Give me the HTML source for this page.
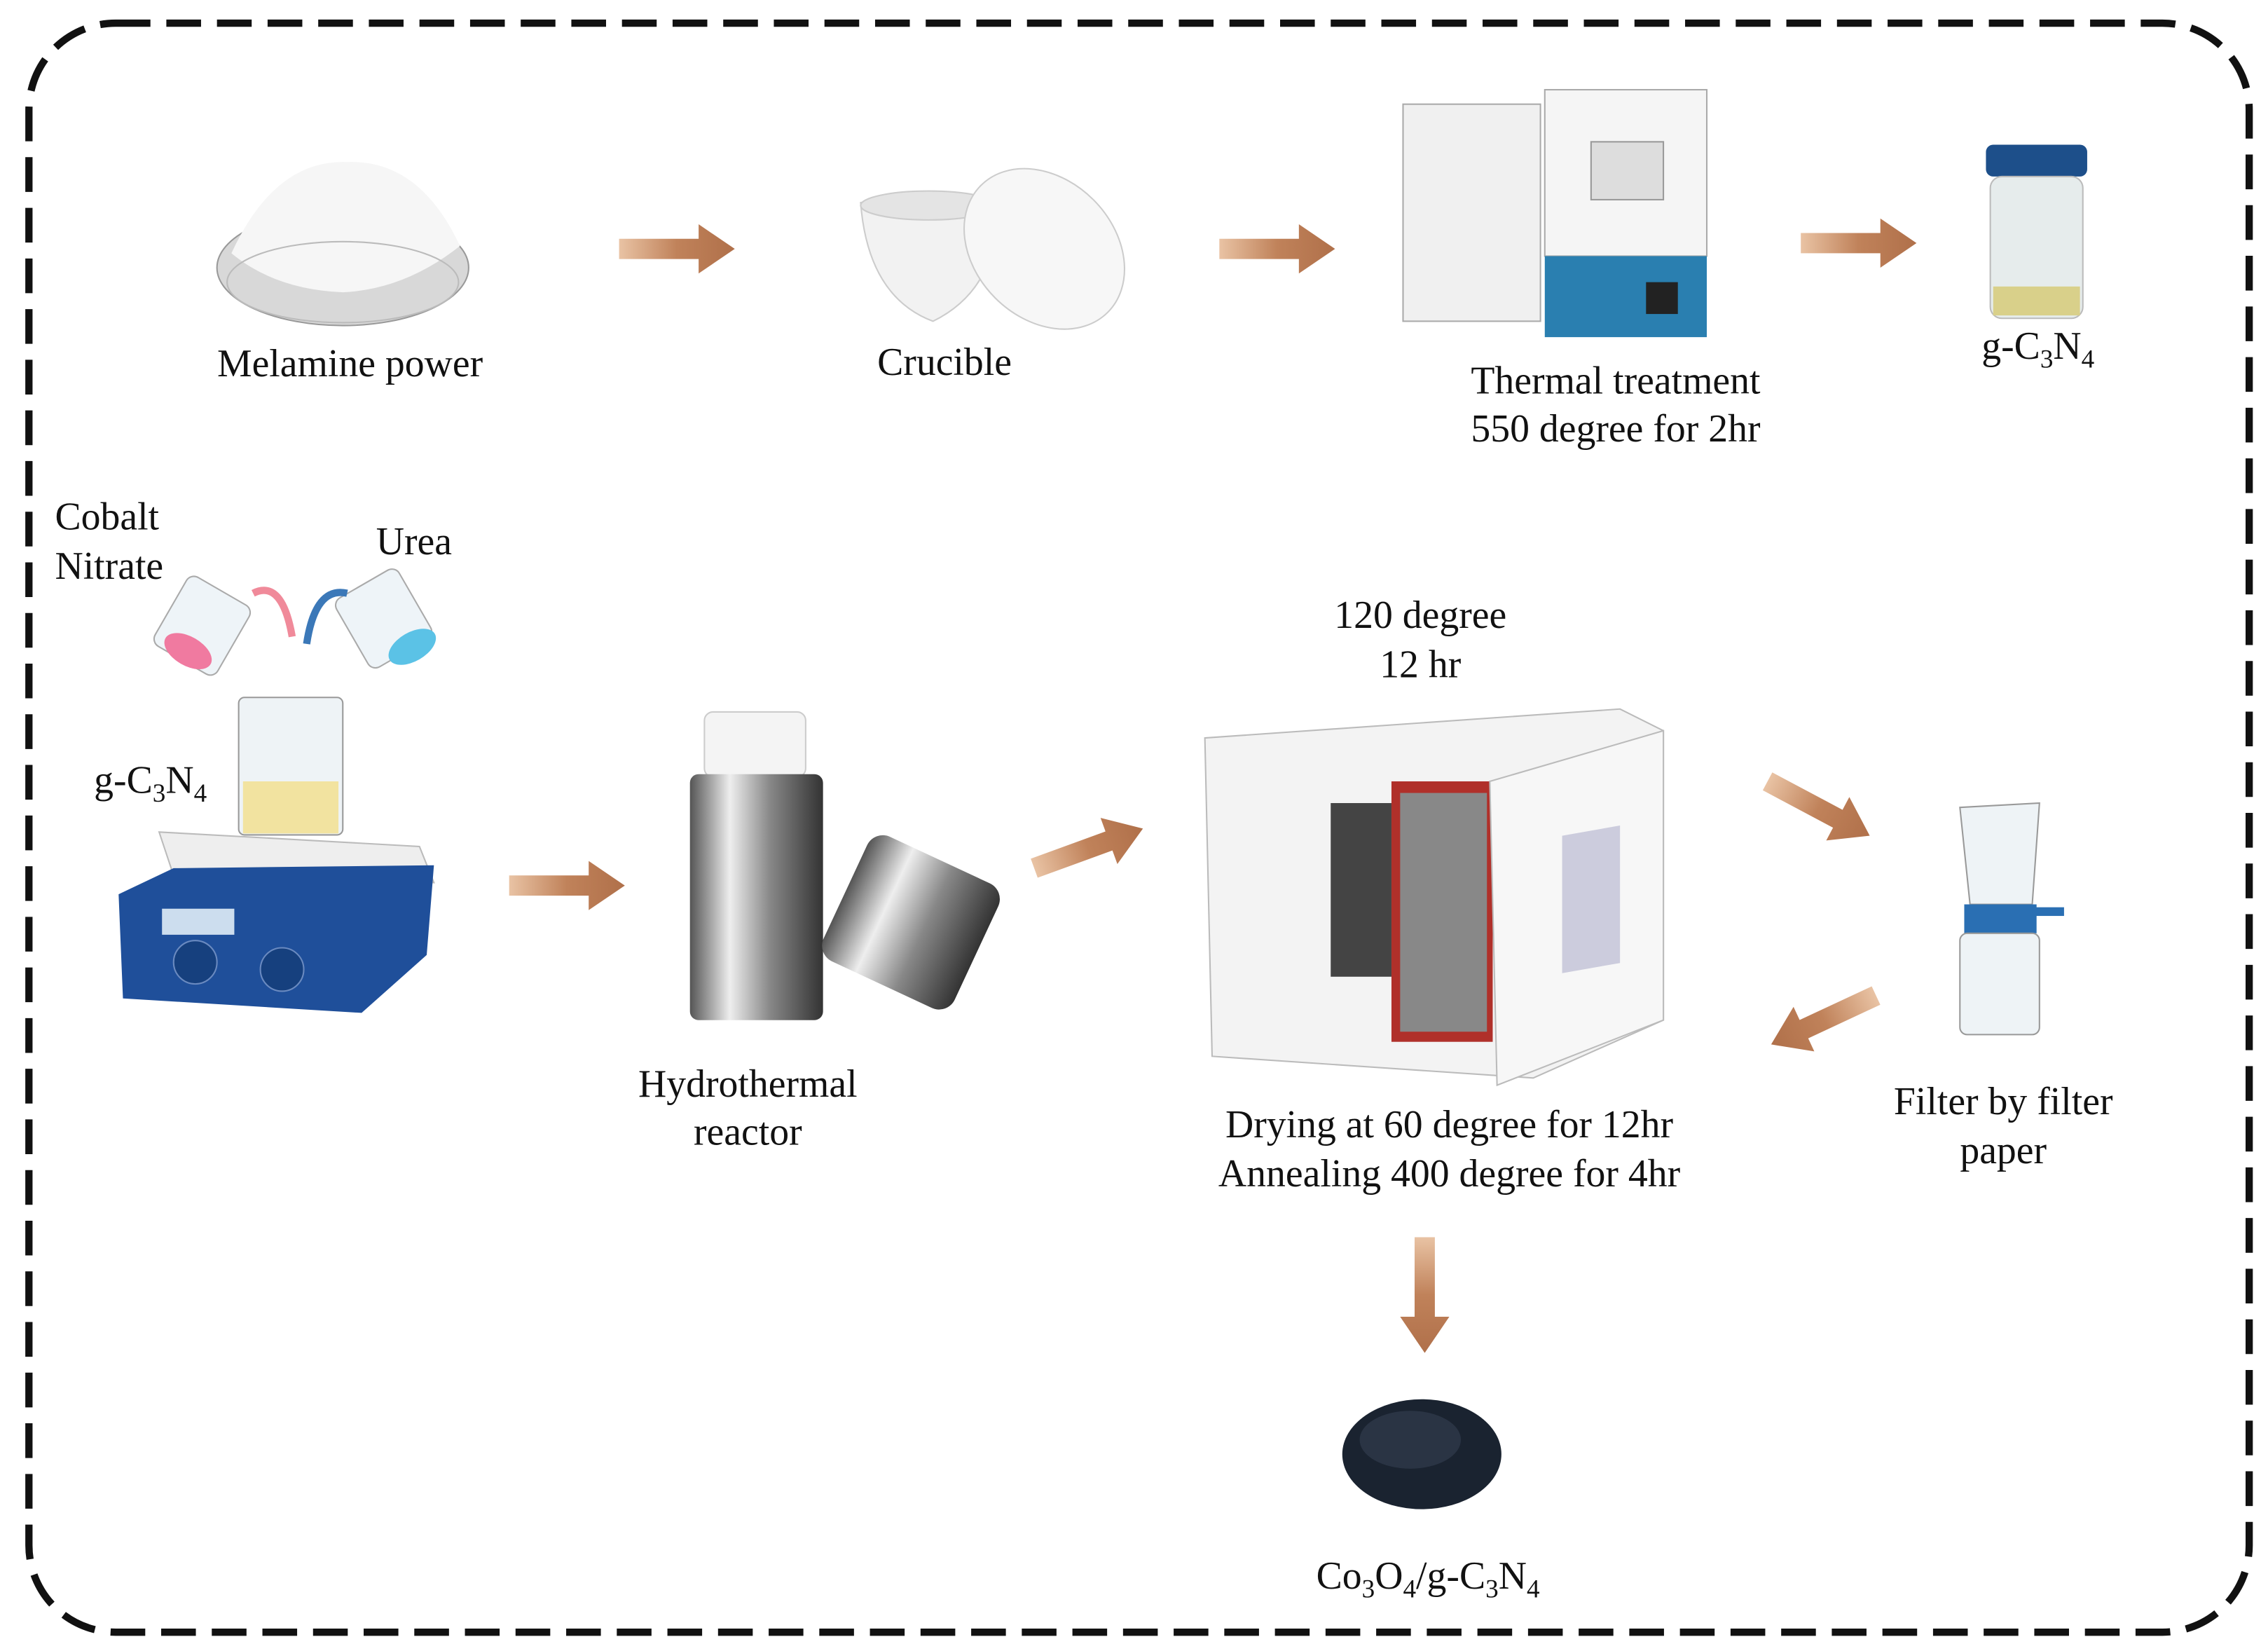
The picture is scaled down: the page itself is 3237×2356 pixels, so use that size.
<!DOCTYPE html>
<html><head><meta charset="utf-8">
<style>
html,body{margin:0;padding:0;background:#fff;}
svg{display:block;}
text{font-family:"Liberation Serif",serif;font-size:27px;fill:#111;}
</style></head>
<body>
<svg width="3237" height="2356" viewBox="0 0 1568 1141" preserveAspectRatio="none" xmlns="http://www.w3.org/2000/svg">
<defs>
<linearGradient id="ag" x1="0" x2="1" y1="0" y2="0">
<stop offset="0" stop-color="#e9c3a4"/><stop offset="0.5" stop-color="#c0825a"/><stop offset="1" stop-color="#b0704a"/>
</linearGradient>
<g id="arr"><path d="M0,-7 L55,-7 L55,-17 L80,0 L55,17 L55,7 L0,7 Z" fill="url(#ag)"/></g>
<linearGradient id="steel" x1="0" x2="1"><stop offset="0" stop-color="#555"/><stop offset="0.3" stop-color="#eee"/><stop offset="0.6" stop-color="#888"/><stop offset="1" stop-color="#333"/></linearGradient>
</defs>
<rect x="0" y="0" width="1568" height="1141" fill="#fff"/>
<rect x="20" y="16" width="1535" height="1112" rx="60" ry="60" fill="none" stroke="#111" stroke-width="5" stroke-dasharray="24 11"/>

<use href="#arr" transform="translate(428,172)"/>
<use href="#arr" transform="translate(843,172)"/>
<use href="#arr" transform="translate(1245,168)"/>
<use href="#arr" transform="translate(352,612)"/>
<use href="#arr" transform="translate(715,600) rotate(-20)"/>
<use href="#arr" transform="translate(1222,540) rotate(28)"/>
<use href="#arr" transform="translate(1297,688) rotate(155)"/>
<use href="#arr" transform="translate(985,855) rotate(90)"/>

<ellipse cx="237" cy="185" rx="87" ry="40" fill="#d8d8d8" stroke="#999"/>
<path d="M160,175 Q190,110 240,112 Q290,110 318,170 Q280,200 237,202 Q190,200 160,175Z" fill="#f6f6f6"/>
<ellipse cx="237" cy="195" rx="80" ry="28" fill="none" stroke="#bbb"/>
<text x="242" y="260" text-anchor="middle">Melamine power</text>

<path d="M595,140 Q640,130 690,142 Q690,200 645,222 Q600,205 595,140Z" fill="#f2f2f2" stroke="#ccc"/>
<ellipse cx="642" cy="142" rx="47" ry="10" fill="#e4e4e4" stroke="#ccc"/>
<ellipse cx="722" cy="172" rx="48" ry="62" transform="rotate(-45 722 172)" fill="#f7f7f7" stroke="#ccc"/>
<text x="653" y="259" text-anchor="middle">Crucible</text>

<rect x="970" y="72" width="95" height="150" fill="#f0f0f0" stroke="#aaa"/>
<rect x="1068" y="62" width="112" height="115" fill="#f5f5f5" stroke="#aaa"/>
<rect x="1100" y="98" width="50" height="40" fill="#ddd" stroke="#999"/>
<rect x="1068" y="177" width="112" height="56" fill="#2a7fb0"/>
<rect x="1138" y="195" width="22" height="22" fill="#222"/>
<text x="1117" y="272" text-anchor="middle">Thermal treatment</text>
<text x="1117" y="305" text-anchor="middle">550  degree for 2hr</text>

<rect x="1373" y="100" width="70" height="22" rx="5" fill="#1d4f8a"/>
<rect x="1376" y="122" width="64" height="98" rx="8" fill="#e6ecec" stroke="#bbb"/>
<rect x="1378" y="198" width="60" height="20" fill="#d9d08a"/>
<text x="1370" y="248">g-C<tspan font-size="18" dy="6">3</tspan><tspan dy="-6">N</tspan><tspan font-size="18" dy="6">4</tspan></text>

<text x="38" y="366">Cobalt</text>
<text x="38" y="400">Nitrate</text>
<text x="260" y="383">Urea</text>
<rect x="115" y="405" width="50" height="55" rx="6" transform="rotate(30 140 432)" fill="#eef4f8" stroke="#aaa"/>
<ellipse cx="130" cy="450" rx="18" ry="10" fill="#f07aa0" transform="rotate(30 130 450)"/>
<rect x="240" y="400" width="50" height="55" rx="6" transform="rotate(-30 265 427)" fill="#eef4f8" stroke="#aaa"/>
<ellipse cx="285" cy="447" rx="18" ry="10" fill="#5bc2e6" transform="rotate(-30 285 447)"/>
<path d="M175,410 Q195,400 202,440" fill="none" stroke="#f08a9a" stroke-width="5"/>
<path d="M240,410 Q218,405 212,445" fill="none" stroke="#3b78b8" stroke-width="5"/>

<text x="65" y="548">g-C<tspan font-size="18" dy="6">3</tspan><tspan dy="-6">N</tspan><tspan font-size="18" dy="6">4</tspan></text>
<rect x="165" y="482" width="72" height="95" rx="4" fill="#eef3f6" stroke="#999"/>
<rect x="168" y="540" width="66" height="36" fill="#f2e3a0"/>
<path d="M110,575 L290,585 L300,610 L120,605Z" fill="#eee" stroke="#bbb"/>
<path d="M82,618 L120,600 L300,598 L295,660 L250,700 L85,690Z" fill="#1f4f9a"/>
<rect x="112" y="628" width="50" height="18" fill="#cde"/>
<circle cx="135" cy="665" r="15" fill="#16407e" stroke="#6a8ac0"/>
<circle cx="195" cy="670" r="15" fill="#16407e" stroke="#6a8ac0"/>

<rect x="487" y="492" width="70" height="45" rx="6" fill="#f4f4f4" stroke="#ccc"/>
<rect x="477" y="535" width="92" height="170" rx="6" fill="url(#steel)"/>
<rect x="580" y="590" width="100" height="95" rx="12" transform="rotate(25 630 637)" fill="url(#steel)"/>
<text x="517" y="758" text-anchor="middle">Hydrothermal</text>
<text x="517" y="791" text-anchor="middle">reactor</text>

<text x="982" y="434" text-anchor="middle">120 degree</text>
<text x="982" y="468" text-anchor="middle">12 hr</text>
<path d="M833,510 L1120,490 L1150,505 L1150,705 L1060,745 L838,730Z" fill="#f3f3f3" stroke="#bbb"/>
<rect x="920" y="555" width="42" height="120" fill="#444"/>
<rect x="962" y="540" width="70" height="180" fill="#b0302a"/>
<rect x="968" y="548" width="60" height="165" fill="#888"/>
<path d="M1030,540 L1150,505 L1150,705 L1035,750Z" fill="#f7f7f7" stroke="#bbb"/>
<rect x="1080" y="578" width="40" height="95" fill="#ccd" transform="skewY(-10) translate(0,190)"/>
<text x="1002" y="786" text-anchor="middle">Drying at 60 degree for 12hr</text>
<text x="1002" y="820" text-anchor="middle">Annealing 400 degree for 4hr</text>

<path d="M1355,558 L1410,555 L1405,625 L1362,625Z" fill="#eef3f6" stroke="#999"/>
<rect x="1358" y="625" width="50" height="20" fill="#2a6fb3"/>
<rect x="1405" y="627" width="22" height="6" fill="#2a6fb3"/>
<rect x="1355" y="645" width="55" height="70" rx="5" fill="#eef3f6" stroke="#999"/>
<text x="1385" y="770" text-anchor="middle">Filter by filter</text>
<text x="1385" y="804" text-anchor="middle">paper</text>

<ellipse cx="983" cy="1005" rx="55" ry="38" fill="#1a2330"/>
<ellipse cx="975" cy="995" rx="35" ry="20" fill="#2a3444"/>
<text x="910" y="1098">Co<tspan font-size="18" dy="6">3</tspan><tspan dy="-6">O</tspan><tspan font-size="18" dy="6">4</tspan><tspan dy="-6">/g-C</tspan><tspan font-size="18" dy="6">3</tspan><tspan dy="-6">N</tspan><tspan font-size="18" dy="6">4</tspan></text>
</svg>
</body></html>
